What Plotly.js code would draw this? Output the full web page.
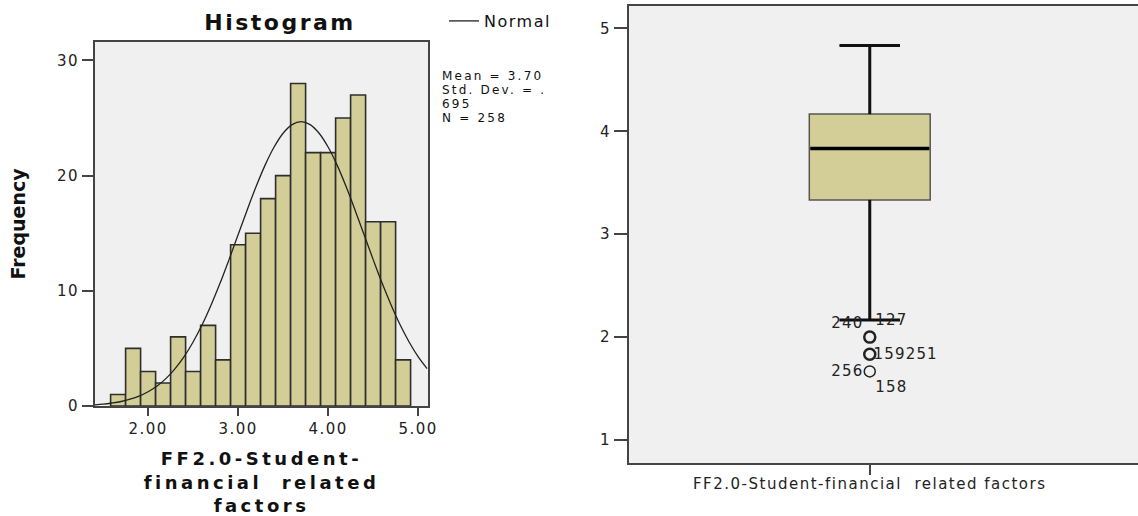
<!DOCTYPE html>
<html><head><meta charset="utf-8">
<script src="https://cdn.plot.ly/plotly-3.0.1.min.js"></script>
<style>
html,body{margin:0;padding:0;background:#fff;}
#chart{width:1138px;height:516px;}
.gtitle{letter-spacing:2.5px;}
.xtitle{letter-spacing:3.5px;}
g.xtick text, g.ytick text, g.x2tick text, g.y2tick text{letter-spacing:1.5px;}
.legendtext{letter-spacing:1.5px;}
g.annotation text{letter-spacing:1.2px;}
g.annotation[data-index="0"] text{letter-spacing:2.2px;}
</style></head><body><div id="chart"></div>
<script>
// ---------- Histogram data ----------
const binCenters = [1.6667,1.8333,2.0,2.1667,2.3333,2.5,2.6667,2.8333,3.0,3.1667,3.3333,3.5,3.6667,3.8333,4.0,4.1667,4.3333,4.5,4.6667,4.8333];
const binCounts  = [1,5,3,2,6,3,7,4,14,15,18,20,28,22,22,25,27,16,16,4];
const histXTicks = [2,3,4,5];
const histXTickText = ['2.00','3.00','4.00','5.00'];
const histYTicks = [0,10,20,30];
// fitted normal curve
const normalX = [1.4,1.5,1.6,1.7,1.8,1.9,2.0,2.1,2.2,2.3,2.4,2.5,2.6,2.7,2.8,2.9,3.0,3.1,3.2,3.3,3.4,3.5,3.6,3.7,3.8,3.9,4.0,4.1,4.2,4.3,4.4,4.5,4.6,4.7,4.8,4.9,5.0,5.1];
const normalY = [0.10,0.16,0.26,0.39,0.59,0.86,1.24,1.74,2.40,3.25,4.29,5.56,7.05,8.77,10.67,12.73,14.86,17.00,19.05,20.91,22.48,23.68,24.43,24.68,24.43,23.68,22.48,20.91,19.05,17.00,14.86,12.73,10.67,8.77,7.05,5.56,4.29,3.25];
const statLines = ['Mean = 3.70','Std. Dev. = .','695','N = 258'];

// ---------- Box plot data ----------
const boxCategory = 'FF2.0-Student-financial\u00a0 related factors';
const boxLowerFence = 2.1667;
const boxQ1 = 3.3333;
const boxMedian = 3.8333;
const boxQ3 = 4.1667;
const boxUpperFence = 4.8333;
const outlierValues = [2.0, 1.8333, 1.6667];
const outlierLabelText = ['240','127','159251','256','158'];
const outlierLabelY = [2.136, 2.165, 1.835, 1.67, 1.515];
const boxYTicks = [1,2,3,4,5];

// ---------- styles ----------
const FONT = 'DejaVu Sans, sans-serif';
const TAN = '#D3CE97';
const FRAME = '#444444';
const BOXW = 0.475;
const outlierMarkerWidths = [2.5, 2.5, 1.5];
const labelSides = ['left','right','right','left','right'];

const traces = [
  {type:'bar', x:binCenters, y:binCounts, xaxis:'x', yaxis:'y', showlegend:false,
   marker:{color:TAN, line:{color:'#2e2e2e', width:1.6}}, hoverinfo:'x+y'},
  {type:'scatter', mode:'lines', x:normalX, y:normalY, xaxis:'x', yaxis:'y', name:'Normal',
   line:{color:'#222', width:1.3, shape:'spline'}, showlegend:true},
  {type:'box', x:[0], q1:[boxQ1], median:[boxMedian], q3:[boxQ3],
   lowerfence:[boxLowerFence], upperfence:[boxUpperFence], xaxis:'x2', yaxis:'y2',
   width:BOXW, whiskerwidth:0.5, fillcolor:TAN, line:{color:'#555', width:1.5},
   boxpoints:false, showlegend:false},
  {type:'scatter', mode:'lines', xaxis:'x2', yaxis:'y2', showlegend:false, hoverinfo:'skip',
   x:[0,0,null,0,0,null,-BOXW/4,BOXW/4,null,-BOXW/4,BOXW/4],
   y:[boxQ3,boxUpperFence,null,boxQ1,boxLowerFence,null,boxUpperFence,boxUpperFence,null,boxLowerFence,boxLowerFence],
   line:{color:'#111', width:3}},
  {type:'scatter', mode:'lines', xaxis:'x2', yaxis:'y2', showlegend:false, hoverinfo:'skip',
   x:[-BOXW/2+0.004, BOXW/2-0.004], y:[boxMedian, boxMedian], line:{color:'#000', width:3.5}},
  {type:'scatter', mode:'markers', xaxis:'x2', yaxis:'y2', showlegend:false,
   x:outlierValues.map(()=>0), y:outlierValues,
   marker:{symbol:'circle-open', size:11, color:'#222', line:{width:outlierMarkerWidths, color:'#222'}}}
];

const annotations = [];
annotations.push({
  text:statLines.join('<br>'), xref:'paper', yref:'paper', x:441/1138, y:1-68/516,
  xanchor:'left', yanchor:'top', align:'left',
  showarrow:false, font:{family:FONT, size:12, color:'#111'}, borderpad:0
});
outlierLabelText.forEach((t,i)=>annotations.push({
  text:t, xref:'x2', yref:'y2', x:0, y:outlierLabelY[i],
  xanchor: labelSides[i]==='left' ? 'right' : 'left',
  xshift: labelSides[i]==='left' ? -7 : 6,
  yanchor:'middle', showarrow:false, borderpad:0,
  font:{family:FONT, size:15, color:'#222'}
}));

const layout = {
  width:1138, height:516, autosize:false,
  margin:{l:0,r:0,t:0,b:0,pad:0},
  paper_bgcolor:'#ffffff', plot_bgcolor:'#F0F0F0',
  bargap:0,
  title:{text:'Histogram', font:{family:FONT, size:22, weight:'bold', color:'#111'},
         x:280/1138, xanchor:'center', xref:'paper', y:1-22/516, yanchor:'middle', yref:'paper'},
  showlegend:true,
  legend:{x:444/1138, y:1-4/516, xanchor:'left', yanchor:'top', bgcolor:'rgba(0,0,0,0)',
          font:{family:FONT, size:16, color:'#111'}, borderwidth:0},
  xaxis:{domain:[95/1138, 428/1138], anchor:'y', range:[1.41,5.11],
         tickvals:histXTicks, ticktext:histXTickText, ticks:'outside', ticklen:8, tickwidth:2, tickcolor:FRAME,
         showline:true, linecolor:FRAME, linewidth:2, mirror:true, showgrid:false, zeroline:false,
         tickfont:{family:FONT, size:15, color:'#222'},
         title:{text:'FF2.0-Student-<br>financial\u00a0 related<br>factors', standoff:17,
                font:{family:FONT, size:18, weight:'bold', color:'#111'}}},
  yaxis:{domain:[(516-406)/516, (516-42)/516], anchor:'x', range:[0,31.6],
         tickvals:histYTicks, ticks:'outside', ticklen:11, tickwidth:2, tickcolor:FRAME,
         showline:true, linecolor:FRAME, linewidth:2, mirror:true, showgrid:false, zeroline:false,
         tickfont:{family:FONT, size:15, color:'#222'},
         title:{text:'Frequency', standoff:26, font:{family:FONT, size:19, weight:'bold', color:'#111'}}},
  xaxis2:{domain:[629/1138, 1], anchor:'y2', range:[-0.946,1.054],
          tickvals:[0], ticktext:[boxCategory], ticks:'outside', ticklen:10, tickwidth:2, tickcolor:FRAME,
          ticklabelstandoff:-4,
          showline:true, linecolor:FRAME, linewidth:2, mirror:true, showgrid:false, zeroline:false,
          tickfont:{family:FONT, size:15, color:'#222'}},
  yaxis2:{domain:[(516-463)/516, (516-6)/516], anchor:'x2', range:[0.777,5.217],
          tickvals:boxYTicks, ticks:'outside', ticklen:13, tickwidth:2, tickcolor:FRAME,
          showline:true, linecolor:FRAME, linewidth:2, mirror:false, showgrid:false, zeroline:false,
          tickfont:{family:FONT, size:15, color:'#222'}},
  annotations:annotations
};

Plotly.newPlot('chart', traces, layout, {displayModeBar:false, staticPlot:true}).then(function(gd){
  // tighten the line spacing of the statistics block, as in the reference
  const ann = gd.querySelector('g.annotation[data-index="0"] text');
  if (ann) {
    ann.querySelectorAll('tspan.line').forEach(function(ts, i){
      if (i > 0) ts.setAttribute('dy', (i * 1.17) + 'em');
    });
  }
});
</script></body></html>
